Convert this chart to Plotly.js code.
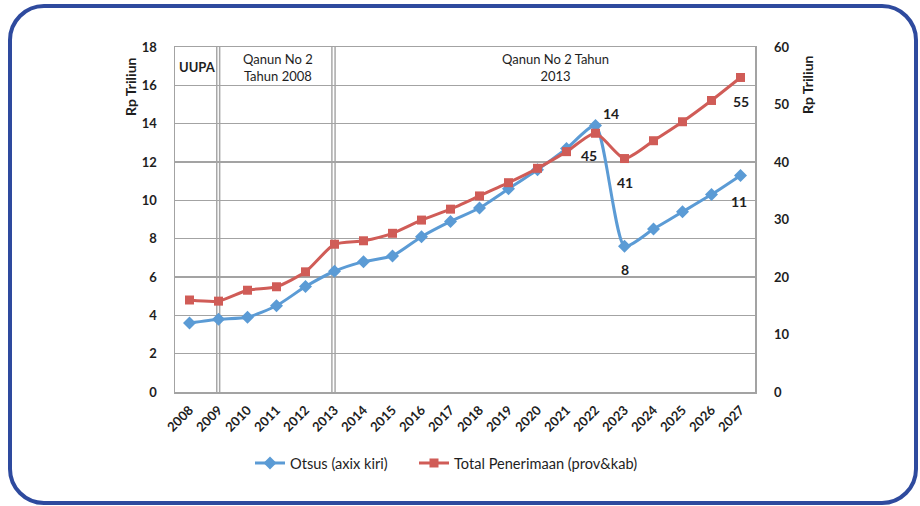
<!DOCTYPE html>
<html>
<head>
<meta charset="utf-8">
<script src="https://cdn.plot.ly/plotly-3.0.1.min.js"></script>
<style>
html,body{margin:0;padding:0;background:#fff;}
#chart{width:920px;height:506px;}
</style>
</head>
<body>
<div id="chart"></div>
<script>
// ---- data ----
const years = ["2008","2009","2010","2011","2012","2013","2014","2015","2016","2017","2018","2019","2020","2021","2022","2023","2024","2025","2026","2027"];
const otsus = [3.6,3.8,3.9,4.5,5.5,6.3,6.8,7.1,8.1,8.9,9.6,10.6,11.6,12.7,13.9,7.6,8.5,9.4,10.3,11.3];
const totalPenerimaan = [16.0,15.8,17.7,18.3,20.9,25.7,26.3,27.6,29.9,31.8,34.1,36.4,38.9,41.8,45.0,40.6,43.7,47.0,50.7,54.7];
const otsusLabels = ["","","","","","","","","","","","","","","14","8","","","","11"];
const totalLabels = ["","","","","","","","","","","","","","","45","41","","","","55"];
const otsusName = "Otsus (axix kiri)";
const totalName = "Total Penerimaan (prov&kab)";
const leftTicks = [0,2,4,6,8,10,12,14,16,18];
const rightTicks = [0,10,20,30,40,50,60];
const axisTitle = "Rp Triliun";
const periodLabels = ["UUPA","Qanun No 2<br>Tahun 2008","Qanun No 2 Tahun<br>2013"];

// ---- layout helpers (pixel -> paper) ----
const PL = 175, PR = 755, PT = 47, PB = 392;
const px = v => (v - PL) / (PR - PL);
const py = v => (PB - v) / (PB - PT);

function roundedRect(x0, y0, x1, y1, r) {
  const k = 0.45;
  return `M ${px(x0)},${py(y0 + r)} ` +
    `L ${px(x0)},${py(y1 - r)} ` +
    `C ${px(x0)},${py(y1 - r*k)} ${px(x0 + r*k)},${py(y1)} ${px(x0 + r)},${py(y1)} ` +
    `L ${px(x1 - r)},${py(y1)} ` +
    `C ${px(x1 - r*k)},${py(y1)} ${px(x1)},${py(y1 - r*k)} ${px(x1)},${py(y1 - r)} ` +
    `L ${px(x1)},${py(y0 + r)} ` +
    `C ${px(x1)},${py(y0 + r*k)} ${px(x1 - r*k)},${py(y0)} ${px(x1 - r)},${py(y0)} ` +
    `L ${px(x0 + r)},${py(y0)} ` +
    `C ${px(x0 + r*k)},${py(y0)} ${px(x0)},${py(y0 + r*k)} ${px(x0)},${py(y0 + r)} Z`;
}

const FONT = "Lato, 'Open Sans', sans-serif";
const blue = "#5B9BD5";
const red = "#D05C57";
const txt = "#1E1E1E";

const traces = [
  {
    x: years, y: otsus, name: otsusName, yaxis: "y", legend: "legend",
    type: "scatter", mode: "lines+markers",
    line: {color: blue, width: 3, shape: "spline", smoothing: 0.6},
    marker: {symbol: "diamond", size: 10, color: blue}
  },
  {
    x: years, y: totalPenerimaan, name: totalName, yaxis: "y2", legend: "legend2",
    type: "scatter", mode: "lines+markers",
    line: {color: red, width: 3, shape: "spline", smoothing: 0.6},
    marker: {symbol: "square", size: 9, color: red}
  }
];

// value labels, anchored on the data points (offsets in pixels)
const labelOffsetsBlue = {14: [15, 12], 15: [0, -23], 19: [-2, -26]};
const labelOffsetsRed = {14: [-7, -22], 15: [0, -24], 19: [0, -24]};
const valueLabels = [];
otsusLabels.forEach((t, i) => {
  if (!t) return;
  const o = labelOffsetsBlue[i] || [0, -22];
  valueLabels.push({xref: "x", yref: "y", x: i, y: otsus[i], text: t, showarrow: false,
    xshift: o[0], yshift: o[1], xanchor: "center", yanchor: "middle",
    font: {family: FONT, size: 14, color: txt, weight: "bold"}});
});
totalLabels.forEach((t, i) => {
  if (!t) return;
  const o = labelOffsetsRed[i] || [0, -22];
  valueLabels.push({xref: "x", yref: "y2", x: i, y: totalPenerimaan[i], text: t, showarrow: false,
    xshift: o[0], yshift: o[1], xanchor: "center", yanchor: "middle",
    font: {family: FONT, size: 14, color: txt, weight: "bold"}});
});

const grid = "#A3A3A3";
const vlines = [0.94, 1.04, 4.91, 5.02].map(v => ({
  type: "line", xref: "x", yref: "paper", x0: v, x1: v, y0: 0, y1: 1,
  line: {color: "#A8A8A8", width: 1.5}, layer: "below"
}));

const ann = (x, y, text, size, weight, angle) => ({
  xref: "paper", yref: "paper", x: px(x), y: py(y), xanchor: "center", yanchor: "middle",
  text: text, showarrow: false, textangle: angle || 0,
  font: {family: FONT, size: size, color: txt, weight: weight}
});

const legendStyle = (x) => ({
  orientation: "h", x: px(x), xanchor: "left", y: py(463), yanchor: "middle",
  font: {family: FONT, size: 14.6, color: txt}, bgcolor: "rgba(0,0,0,0)",
  itemwidth: 30, borderwidth: 0
});

const layout = {
  width: 920, height: 506,
  margin: {l: PL, r: 920 - PR, t: PT, b: 506 - PB, pad: 0},
  paper_bgcolor: "#fff", plot_bgcolor: "#fff",
  font: {family: FONT, color: txt, size: 13},
  showlegend: true,
  legend: legendStyle(250),
  legend2: legendStyle(414),
  xaxis: {
    type: "category", range: [-0.5, 19.5],
    showgrid: false, showline: true, linecolor: grid, linewidth: 1.5, mirror: true,
    tickangle: -45, ticks: "", ticklabelstandoff: 4,
    tickfont: {family: FONT, size: 13, color: txt, weight: "bold"},
    fixedrange: true
  },
  yaxis: {
    range: [0, 18], tickvals: leftTicks, ticktext: leftTicks.map(String),
    showgrid: true, gridcolor: grid, gridwidth: 1.5,
    showline: true, linecolor: grid, linewidth: 1.5, mirror: true,
    zeroline: false, ticks: "", ticklabelstandoff: 14,
    tickfont: {family: FONT, size: 13, color: txt, weight: "bold"}
  },
  yaxis2: {
    range: [0, 60], tickvals: rightTicks, ticktext: rightTicks.map(String),
    overlaying: "y", side: "right", showgrid: false, zeroline: false,
    showline: false, ticks: "", ticklabelstandoff: 18,
    tickfont: {family: FONT, size: 13, color: txt, weight: "bold"}
  },
  shapes: [
    ...vlines,
    {type: "path", xref: "paper", yref: "paper", path: roundedRect(10, 6, 916, 503, 34),
     line: {color: "#2E4A9E", width: 4}, fillcolor: "rgba(0,0,0,0)", layer: "above"}
  ],
  annotations: [
    ann(197, 67, periodLabels[0], 13, "bold"),
    ann(278, 67, periodLabels[1], 13, "normal"),
    ann(555, 67, periodLabels[2], 13, "normal"),
    ann(131, 87, axisTitle, 14, "bold", -90),
    ann(808, 85, axisTitle, 14, "bold", -90),
    ...valueLabels
  ]
};

Plotly.newPlot("chart", traces, layout, {displayModeBar: false, staticPlot: true});
</script>
</body>
</html>
